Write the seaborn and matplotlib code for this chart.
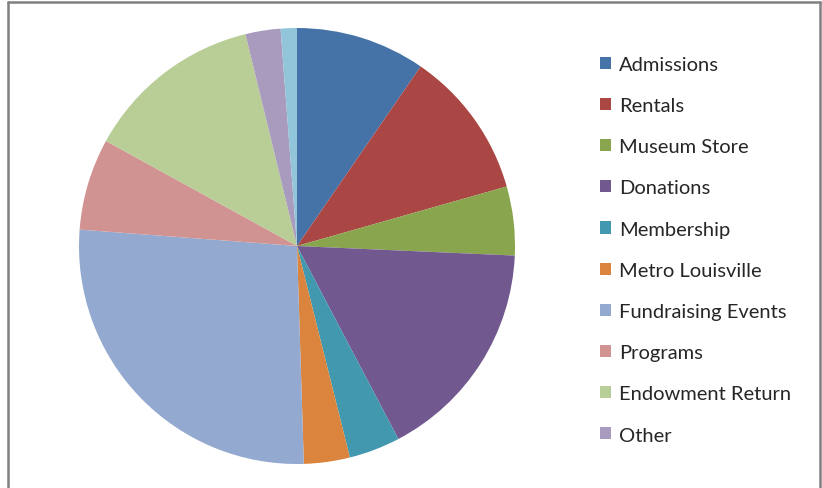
import matplotlib
matplotlib.use("Agg")
import matplotlib.pyplot as plt
import seaborn as sns
from matplotlib.lines import Line2D

# revenue share by source (percent of pie)
labels = ['Admissions', 'Rentals', 'Museum Store', 'Donations', 'Membership',
          'Metro Louisville', 'Fundraising Events', 'Programs',
          'Endowment Return', 'Other']
values = [9.6, 11.0, 5.1, 16.6, 3.8, 3.4, 26.7, 6.8, 13.2, 2.6, 1.2]
colors = ['#4572A7', '#AA4643', '#89A54E', '#71588F', '#4198AF', '#DB843D',
          '#93A9CF', '#D19392', '#B9CD96', '#A99BBD', '#92C5DA']

sns.set_theme(style='white')
plt.rcParams['font.family'] = ['Lato', 'DejaVu Sans']

fig = plt.figure(figsize=(8.22, 4.89), dpi=100)
ax = fig.add_axes([79 / 822, 24 / 489, 436 / 822, 436 / 489])

wedges, _ = ax.pie(values, colors=sns.color_palette(colors), startangle=90,
                   counterclock=False, radius=1,
                   wedgeprops=dict(linewidth=0))
ax.set_xlim(-1, 1)
ax.set_ylim(-1, 1)
ax.set_aspect('equal')
ax.axis('off')

fig.legend(wedges[:len(labels)], labels, loc='upper left',
           bbox_to_anchor=(600 / 822, 1 - 57 / 489), frameon=False,
           fontsize=14.5, handlelength=0.55, handleheight=0.55,
           handletextpad=0.4, labelspacing=1.2, borderaxespad=0,
           borderpad=0)

# chart-area border (left, top, right)
border = dict(color='#808080', linewidth=1.8, transform=fig.transFigure)
fig.add_artist(Line2D([8 / 822, 8 / 822], [0, 1 - 3 / 489], **border))
fig.add_artist(Line2D([8 / 822, 820 / 822], [1 - 3 / 489, 1 - 3 / 489], **border))
fig.add_artist(Line2D([820 / 822, 820 / 822], [0, 1 - 3 / 489], **border))

fig.savefig('out.png', dpi=100)
